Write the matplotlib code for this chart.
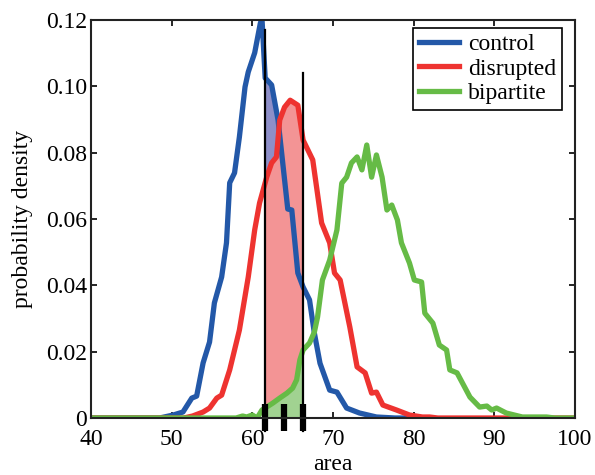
import numpy as np
from matplotlib import pyplot as plt

# control curve
control_x = [40, 48.5, 50.2, 51.4, 52.5, 53.1, 53.9, 54.7, 55.3, 56.2, 56.8, 57.2, 57.8, 58.4,
             59.1, 59.5, 60.3, 61.0, 61.2, 61.6, 62.4, 63.2, 64.4, 64.9, 65.65, 66.3, 67.1,
             67.7, 68.4, 69.6, 70.5, 71.7, 73.3, 75.4, 77.7, 80]
control_y = [0, 0, 0.0009, 0.0018, 0.006, 0.0066, 0.0166, 0.0229, 0.0347, 0.0425, 0.0528,
             0.0709, 0.0739, 0.0847, 0.0998, 0.1043, 0.1101, 0.119, 0.1205, 0.1025, 0.1004,
             0.0898, 0.063, 0.0627, 0.0437, 0.0395, 0.0356, 0.0256, 0.0165, 0.0084, 0.0078,
             0.003, 0.0015, 0.0003, 0, 0]

# disrupted curve
disrupted_x = [40, 51.5, 52.6, 53.9, 54.7, 55.6, 56.2, 57.2, 58.4, 59.5, 60.3, 60.9, 61.8, 62.4,
               63.0, 63.4, 64.0, 64.7, 65.65, 66.3, 67.5, 68.6, 69.6, 70.2, 70.9, 72.1, 73.0,
               74.0, 74.8, 75.4, 76.2, 77.9, 79.5, 81.1, 82.0, 83.0, 100]
disrupted_y = [0, 0, 0.0006, 0.0018, 0.003, 0.006, 0.0069, 0.0145, 0.0265, 0.0425, 0.0567,
               0.0648, 0.0727, 0.0769, 0.0787, 0.0898, 0.0937, 0.0958, 0.0943, 0.0838, 0.0778,
               0.0588, 0.0528, 0.0437, 0.0416, 0.0274, 0.0154, 0.0136, 0.0075, 0.0078, 0.0039,
               0.0024, 0.0009, 0.0003, 0.0003, 0, 0]

# bipartite curve
bipartite_x = [40, 58.0, 58.8, 59.3, 60.0, 60.6, 61.2, 62.55, 63.4, 64.3, 65.0, 65.5, 65.9, 66.3,
               67.1, 67.7, 68.1, 68.7, 69.6, 70.5, 71.1, 71.7, 72.3, 73.0, 73.6, 74.2, 74.8,
               75.4, 76.1, 76.7, 77.3, 78.0, 78.5, 79.5, 80.1, 81.0, 81.4, 82.4, 83.2, 84.1,
               84.5, 85.4, 87.0, 88.2, 89.1, 89.7, 90.3, 91.5, 93.5, 96.5, 97.5, 100]
bipartite_y = [0, 0, 0.0006, 0.0003, 0.0009, 0, 0.0024, 0.0045, 0.006, 0.0075, 0.009, 0.0115,
               0.0175, 0.0205, 0.0226, 0.0259, 0.0305, 0.0416, 0.0476, 0.0567, 0.0708, 0.0726,
               0.0769, 0.0787, 0.0748, 0.0823, 0.0726, 0.0793, 0.0726, 0.0627, 0.0642, 0.0597,
               0.0528, 0.0467, 0.0416, 0.041, 0.0316, 0.0286, 0.022, 0.0205, 0.0145, 0.0136,
               0.0063, 0.0033, 0.0036, 0.0024, 0.003, 0.0015, 0.0003, 0.0003, 0, 0]

# interval markers
lo, mid, hi = 61.56, 63.9, 66.27
lo_top, hi_top = 0.117, 0.104

blue, red, green = '#2358a8', '#ee3330', '#66bb46'

plt.rcParams['font.family'] = ['Liberation Serif', 'DejaVu Serif']
plt.rcParams['font.size'] = 17

fig = plt.figure(figsize=(5.95, 4.75), dpi=100)
ax = fig.add_axes([0.153, 0.12, 0.813, 0.838])

# shaded region between the two black lines
xs = np.linspace(lo, hi, 300)
ax.fill_between(xs, 0, np.interp(xs, control_x, control_y), color='#8e8fc8', lw=0)
ax.fill_between(xs, 0, np.interp(xs, disrupted_x, disrupted_y), color='#f39495', lw=0)
ax.fill_between(xs, 0, np.interp(xs, bipartite_x, bipartite_y), color='#a1d291', lw=0)

ax.plot(control_x, control_y, color=blue, lw=3.8, label='control')
ax.plot(disrupted_x, disrupted_y, color=red, lw=3.8, label='disrupted')
ax.plot(bipartite_x, bipartite_y, color=green, lw=3.8, label='bipartite')

ax.plot([lo, lo], [-0.004, lo_top], color='k', lw=1.6, clip_on=False)
ax.plot([hi, hi], [-0.004, hi_top], color='k', lw=1.6, clip_on=False)
for xm in [lo, mid, hi]:
    ax.plot([xm, xm], [-0.0039, 0.0042], color='k', lw=4.5, clip_on=False, solid_capstyle='butt')

ax.set_xlim(40, 100)
ax.set_ylim(0, 0.12)
ax.set_xticks(range(40, 101, 10))
ax.set_yticks([0, 0.02, 0.04, 0.06, 0.08, 0.10, 0.12])
ax.set_yticklabels(['0', '0.02', '0.04', '0.06', '0.08', '0.10', '0.12'])
ax.tick_params(direction='in', top=True, right=True, length=4, width=1.2)
ax.tick_params(axis='x', pad=8)
ax.tick_params(axis='y', pad=3)
for s in ax.spines.values():
    s.set_linewidth(1.5)
    s.set_color('#222222')
ax.set_xlabel('area', labelpad=3)
ax.set_ylabel('probability density', labelpad=9)

leg = ax.legend(loc='upper right', bbox_to_anchor=(0.973, 0.98), fancybox=False,
                framealpha=1, edgecolor='k', handlelength=1.7, handletextpad=0.35,
                labelspacing=0.12, borderpad=0.25, borderaxespad=0)
leg.get_frame().set_linewidth(1.2)

plt.savefig('out.png', dpi=100)
